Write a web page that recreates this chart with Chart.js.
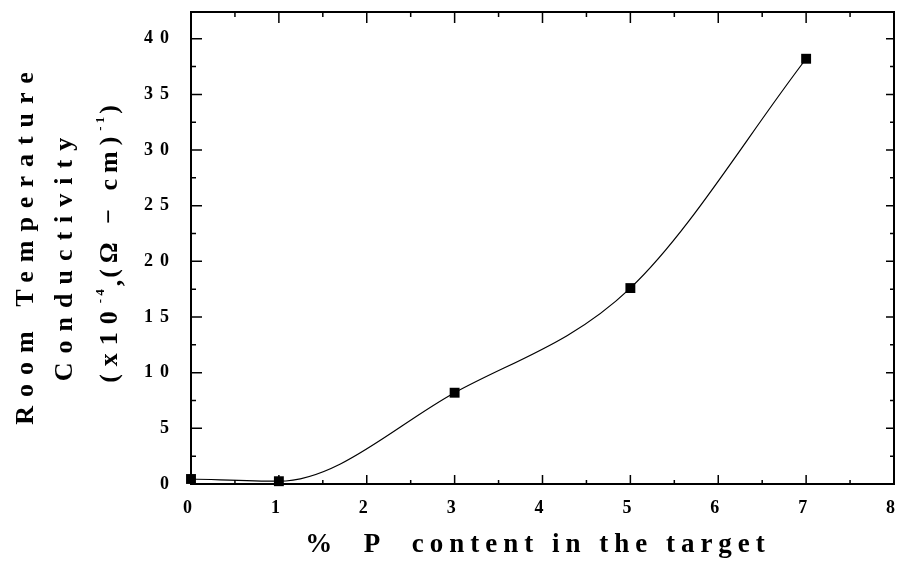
<!DOCTYPE html>
<html>
<head>
<meta charset="utf-8">
<script src="https://cdn.jsdelivr.net/npm/chart.js@4.4.1/dist/chart.umd.min.js"></script>
<style>
  html, body { margin: 0; padding: 0; background: #fff; }
  #wrap { width: 901px; height: 562px; position: relative; }
</style>
</head>
<body>
<div id="wrap"><canvas id="cond-chart"></canvas></div>
<script>
// P content (%) and room temperature conductivity (x10^-4 (ohm-cm)^-1)
const pContent = [0, 1, 3, 5, 7];
const conductivity = [0.45, 0.25, 8.2, 17.6, 38.2];

const xTickValues = [0, 1, 2, 3, 4, 5, 6, 7, 8];
const yTickValues = [0, 5, 10, 15, 20, 25, 30, 35, 40];

const xTitle = "%  P  content in the target";
const yTitleLine1 = "Room Temperature";
const yTitleLine2 = "Conductivity";

const FONT = '"Liberation Serif", "Times New Roman", serif';

// frame, inward major/minor ticks on all four sides
const frameTicks = {
  id: "frameTicks",
  beforeDraw(chart) {
    chart.ctx.letterSpacing = "7px";
  },
  afterDraw(chart) {
    const ctx = chart.ctx;
    const a = chart.chartArea;
    const xs = chart.scales.x;
    const ys = chart.scales.y;

    ctx.save();
    ctx.letterSpacing = "0px";
    ctx.strokeStyle = "#000";
    ctx.lineWidth = 2;
    ctx.strokeRect(a.left, a.top, a.right - a.left, a.bottom - a.top);

    ctx.lineWidth = 1.5;
    ctx.beginPath();
    for (let v = xs.min; v <= xs.max + 1e-9; v += 0.5) {
      const px = xs.getPixelForValue(v);
      const major = Math.abs(v - Math.round(v)) < 1e-9;
      const lenB = major ? 9 : 4;
      const lenT = major ? 11 : 5;
      ctx.moveTo(px, a.bottom);
      ctx.lineTo(px, a.bottom - lenB);
      ctx.moveTo(px, a.top);
      ctx.lineTo(px, a.top + lenT);
    }
    for (let v = 0; v <= ys.max + 1e-9; v += 2.5) {
      const py = ys.getPixelForValue(v);
      const major = Math.abs(v / 5 - Math.round(v / 5)) < 1e-9;
      const lenL = major ? 11 : 5;
      const lenR = major ? 8 : 4;
      ctx.moveTo(a.left, py);
      ctx.lineTo(a.left + lenL, py);
      ctx.moveTo(a.right, py);
      ctx.lineTo(a.right - lenR, py);
    }
    ctx.stroke();

    ctx.fillStyle = "#000";

    // x axis title
    ctx.font = "bold 27px " + FONT;
    ctx.letterSpacing = "6px";
    ctx.textAlign = "center";
    ctx.textBaseline = "alphabetic";
    ctx.fillText(xTitle, 538, 552);

    // y axis title, three rotated lines
    drawRotated(ctx, yTitleLine1, 33, 244, "9px");
    drawRotated(ctx, yTitleLine2, 72, 255, "9px");
    drawUnitsLine(ctx, 117, 244);

    ctx.restore();
  },
};

function drawRotated(ctx, text, x, y, spacing) {
  ctx.save();
  ctx.translate(x, y);
  ctx.rotate(-Math.PI / 2);
  ctx.font = "bold 26px " + FONT;
  ctx.letterSpacing = spacing;
  ctx.textAlign = "center";
  ctx.textBaseline = "alphabetic";
  ctx.fillText(text, 0, 0);
  ctx.restore();
}

// "(x10^-4,(Ω − cm)^-1)" with raised exponents
function drawUnitsLine(ctx, x, y) {
  const parts = [
    { t: "(x10", size: 26, dy: 0, sp: 8 },
    { t: "-4", size: 13, dy: -13, sp: 3 },
    { t: ",", size: 26, dy: 4, sp: 2 },
    { t: "(Ω − cm)", size: 26, dy: 0, sp: 6 },
    { t: "-1", size: 13, dy: -13, sp: 3 },
    { t: ")", size: 26, dy: 0, sp: 0 },
  ];
  ctx.save();
  ctx.translate(x, y);
  ctx.rotate(-Math.PI / 2);
  ctx.textAlign = "left";
  ctx.textBaseline = "alphabetic";
  let total = 0;
  parts.forEach((p) => {
    ctx.font = "bold " + p.size + "px " + FONT;
    ctx.letterSpacing = p.sp + "px";
    p.w = ctx.measureText(p.t).width;
    total += p.w;
  });
  let cx = -total / 2;
  parts.forEach((p) => {
    ctx.font = "bold " + p.size + "px " + FONT;
    ctx.letterSpacing = p.sp + "px";
    ctx.fillText(p.t, cx, p.dy);
    cx += p.w;
  });
  ctx.restore();
}

new Chart(document.getElementById("cond-chart"), {
  type: "scatter",
  data: {
    datasets: [
      {
        data: pContent.map((x, i) => ({ x: x, y: conductivity[i] })),
        showLine: true,
        cubicInterpolationMode: "monotone",
        borderColor: "#000",
        borderWidth: 1.2,
        backgroundColor: "#000",
        pointStyle: "rect",
        pointRadius: 7,
        pointBorderWidth: 0,
        clip: false,
      },
    ],
  },
  options: {
    responsive: true,
    maintainAspectRatio: false,
    animation: false,
    layout: { padding: { top: 12, right: 3, left: 0, bottom: 0 } },
    plugins: {
      legend: { display: false },
      tooltip: { enabled: false },
    },
    scales: {
      x: {
        type: "linear",
        min: 0,
        max: 8,
        grid: { display: false },
        border: { display: false },
        afterBuildTicks(scale) {
          scale.ticks = xTickValues.map((v) => ({ value: v }));
        },
        afterFit(scale) {
          scale.height = 78;
          scale.paddingLeft = 0;
          scale.paddingRight = 0;
        },
        ticks: {
          color: "#000",
          padding: 6,
          font: { family: FONT, size: 18, weight: "bold" },
        },
      },
      y: {
        type: "linear",
        min: 0,
        max: 42.4,
        grid: { display: false },
        border: { display: false },
        afterBuildTicks(scale) {
          scale.ticks = yTickValues.map((v) => ({ value: v }));
        },
        afterFit(scale) {
          scale.width = 191;
          scale.paddingTop = 0;
          scale.paddingBottom = 0;
        },
        ticks: {
          color: "#000",
          padding: 7,
          font: { family: FONT, size: 18, weight: "bold" },
        },
      },
    },
  },
  plugins: [frameTicks],
});
</script>
</body>
</html>
